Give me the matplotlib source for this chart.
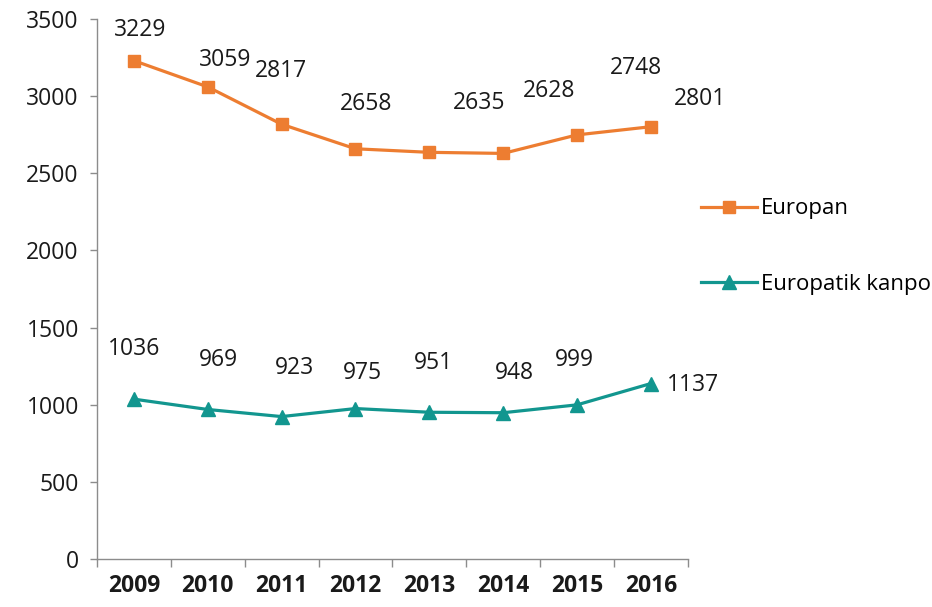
import matplotlib
matplotlib.use('Agg')
import matplotlib.pyplot as plt
import numpy as np

# Data
years = ['2009', '2010', '2011', '2012', '2013', '2014', '2015', '2016']
europan = [3229, 3059, 2817, 2658, 2635, 2628, 2748, 2801]
kanpo = [1036, 969, 923, 975, 951, 948, 999, 1137]

# label offsets in pixels (the source chart has hand-moved labels)
europan_off = [(6, 31), (17, 27), (-1, 53), (11, 45), (50, 49), (46, 62), (59, 67), (49, 28)]
kanpo_off = [(0, 50), (11, 49), (13, 49), (7, 36), (4, 49), (11, 40), (-3, 45), (42, -1)]

plt.rcParams['font.family'] = ['Open Sans', 'DejaVu Sans']
orange = '#ED7D31'
teal = '#12968F'
axis_gray = '#8C8C8C'
txt = '#1a1a1a'

fig = plt.figure(figsize=(9.32, 6.07), dpi=100)
ax = fig.add_axes([0.104, 0.079, 0.634, 0.890])

x = np.arange(len(years))
ax.plot(x, europan, color=orange, lw=2.3, marker='s', ms=9, label='Europan')
ax.plot(x, kanpo, color=teal, lw=2.3, marker='^', ms=10, label='Europatik kanpo')

for xi, v, off in zip(x, europan, europan_off):
    ax.annotate(str(v), (xi, v), xytext=off, textcoords='offset pixels',
                ha='center', va='center', fontsize=16.5, color=txt)
for xi, v, off in zip(x, kanpo, kanpo_off):
    ax.annotate(str(v), (xi, v), xytext=off, textcoords='offset pixels',
                ha='center', va='center', fontsize=16.5, color=txt)

# Axes styling
ax.set_xlim(-0.5, len(years) - 0.5)
ax.set_ylim(0, 3500)
ax.set_yticks(np.arange(0, 3501, 500))
ax.set_xticks(x)
ax.set_xticklabels(years, fontweight='bold')
ax.set_xticks(np.arange(-0.5, len(years), 1), minor=True)
ax.tick_params(axis='x', which='major', length=0, pad=11, labelsize=16.5, labelcolor=txt)
ax.tick_params(axis='x', which='minor', length=6, color=axis_gray, width=1, direction='out')
ax.tick_params(axis='y', length=5, color=axis_gray, width=1, pad=8, labelsize=16.5, labelcolor=txt)
for s in ['top', 'right']:
    ax.spines[s].set_visible(False)
for s in ['left', 'bottom']:
    ax.spines[s].set_color(axis_gray)
    ax.spines[s].set_linewidth(1)

fig.legend(loc='upper left', bbox_to_anchor=(0.731, 0.706), frameon=False,
           fontsize=16, handlelength=2.5, handletextpad=0.2, labelspacing=2.45)

fig.savefig('out.png', dpi=100)
